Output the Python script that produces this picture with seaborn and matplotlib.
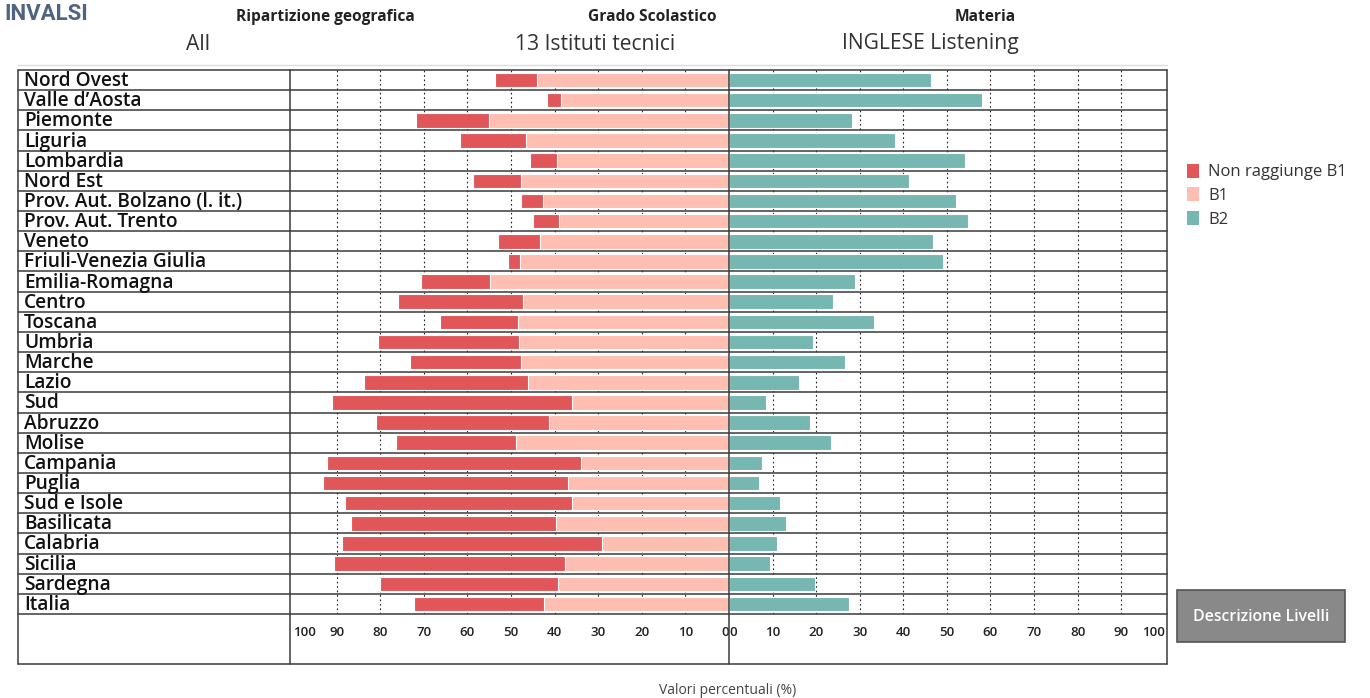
import numpy as np
import pandas as pd
import matplotlib
matplotlib.use("Agg")
import matplotlib.pyplot as plt
from matplotlib.lines import Line2D
from matplotlib.patches import Rectangle, Patch
import seaborn as sns

# ---- data -------------------------------------------------------------
regioni = [
    "Nord Ovest", "Valle d\u2019Aosta", "Piemonte", "Liguria", "Lombardia",
    "Nord Est", "Prov. Aut. Bolzano (l. it.)", "Prov. Aut. Trento", "Veneto",
    "Friuli-Venezia Giulia", "Emilia-Romagna", "Centro", "Toscana", "Umbria",
    "Marche", "Lazio", "Sud", "Abruzzo", "Molise", "Campania", "Puglia",
    "Sud e Isole", "Basilicata", "Calabria", "Sicilia", "Sardegna", "Italia",
]
non_b1 = [9.5, 3.2, 16.8, 15.3, 6.1, 10.9, 5.1, 5.9, 9.6, 2.7, 15.8, 28.7,
          17.9, 32.3, 25.5, 37.6, 55.2, 39.6, 27.4, 58.4, 56.1, 52.2, 47.1,
          59.6, 52.9, 40.8, 29.9]
b1 = [44.1, 38.6, 55.0, 46.5, 39.5, 47.8, 42.7, 39.1, 43.3, 48.0, 54.9, 47.2,
      48.5, 48.2, 47.6, 46.1, 35.9, 41.4, 48.9, 33.9, 37.0, 35.9, 39.7, 29.2,
      37.6, 39.2, 42.4]
b2 = [46.3, 58.0, 28.2, 38.0, 54.2, 41.2, 52.2, 54.9, 46.9, 49.0, 29.0, 23.8,
      33.3, 19.2, 26.7, 16.1, 8.5, 18.7, 23.4, 7.5, 6.8, 11.6, 13.1, 11.0,
      9.4, 19.7, 27.5]
tick_values = [0, 10, 20, 30, 40, 50, 60, 70, 80, 90, 100]

df = pd.DataFrame({"regione": regioni, "non_b1": non_b1, "b1": b1, "b2": b2})
df["sotto_b2"] = df["non_b1"] + df["b1"]

C_NON = "#E15759"
C_B1 = "#FEBEB2"
C_B2 = "#76B7B2"
LINE = "#3a3a3a"

sns.set_theme(style="white")
plt.rcParams["font.family"] = ["Open Sans", "DejaVu Sans"]

W, H = 1370, 698
fig = plt.figure(figsize=(W / 100, H / 100), dpi=100)


def fx(x):
    return x / W


def fy(y):
    return 1 - y / H


# table geometry (pixels)
T_LEFT, T_MID_L, T_CENTER, T_RIGHT = 18, 290, 729, 1167
T_TOP, T_ROWS_BOTTOM, T_BOTTOM = 70, 614, 664

ax_l = fig.add_axes([fx(T_MID_L), fy(T_ROWS_BOTTOM), fx(T_CENTER - T_MID_L),
                     (T_ROWS_BOTTOM - T_TOP) / H])
ax_r = fig.add_axes([fx(T_CENTER), fy(T_ROWS_BOTTOM), fx(T_RIGHT - T_CENTER),
                     (T_ROWS_BOTTOM - T_TOP) / H])

bar_w = 0.72
sns.barplot(data=df, x="sotto_b2", y="regione", orient="h", color=C_NON,
            width=bar_w, saturation=1, edgecolor="white", linewidth=0.8, ax=ax_l)
sns.barplot(data=df, x="b1", y="regione", orient="h", color=C_B1,
            width=bar_w, saturation=1, edgecolor="white", linewidth=0.8, ax=ax_l)
sns.barplot(data=df, x="b2", y="regione", orient="h", color=C_B2,
            width=bar_w, saturation=1, edgecolor="white", linewidth=0.8, ax=ax_r)

ax_l.set_xlim(100.7, 0)
ax_r.set_xlim(0, 100.5)
n = len(regioni)
for ax in (ax_l, ax_r):
    ax.set_ylim(n - 0.5, -0.5)
    ax.set_xlabel("")
    ax.set_ylabel("")
    ax.set_yticks([])
    for s in ax.spines.values():
        s.set_visible(False)
    ax.set_facecolor("none")
    for v in tick_values[1:-1]:
        ax.axvline(v, color="#222222", lw=0.8, ls=(0, (1.5, 2.5)), zorder=0)
    ax.set_xticks(tick_values)
    ax.set_xticklabels([str(v) for v in tick_values])
    ax.tick_params(axis="x", length=3, width=0.6, color="#555555", pad=6,
                   labelsize=9.5, labelcolor="#222222", direction="out")

# nudge edge tick labels inward
lab_l = ax_l.get_xticklabels()
lab_l[0].set_ha("right")
lab_l[-1].set_ha("left")
lab_r = ax_r.get_xticklabels()
lab_r[0].set_ha("left")
lab_r[-1].set_ha("right")
for lab in lab_l + lab_r:
    lab.set_fontweight("semibold")

# ---- table frame ------------------------------------------------------
row_h = (T_ROWS_BOTTOM - T_TOP) / n
for i in range(n + 1):
    y = T_TOP + i * row_h
    fig.add_artist(Line2D([fx(T_LEFT), fx(T_RIGHT)], [fy(y), fy(y)],
                          color=LINE, lw=1.1))
fig.add_artist(Line2D([fx(T_LEFT), fx(T_RIGHT)], [fy(T_BOTTOM), fy(T_BOTTOM)],
                      color=LINE, lw=1.1))
for x in (T_LEFT, T_MID_L, T_CENTER, T_RIGHT):
    fig.add_artist(Line2D([fx(x), fx(x)], [fy(T_TOP), fy(T_BOTTOM)],
                          color=LINE, lw=1.1))
fig.add_artist(Line2D([fx(T_LEFT), fx(T_RIGHT)], [fy(65), fy(65)],
                      color="#dddddd", lw=1))

for i, name in enumerate(regioni):
    yc = T_TOP + (i + 0.5) * row_h
    fig.text(fx(24), fy(yc + 1), name, ha="left", va="center",
             fontsize=13.8, fontweight="semibold", color="#111111")

# ---- header -----------------------------------------------------------
fig.text(fx(4), fy(14), "INVALSI", ha="left", va="center", fontsize=16,
         fontweight="bold", color="#4e6480",
         family=["Roboto", "DejaVu Sans"])
heads = [(325, "Ripartizione geografica", 198, "All"),
         (652, "Grado Scolastico", 595, "13 Istituti tecnici"),
         (985, "Materia", 930, "INGLESE Listening")]
for hx, htxt, vx, vtxt in heads:
    fig.text(fx(hx), fy(17), htxt, ha="center", va="center", fontsize=11.2,
             fontweight="bold", color="#222222")
    fig.text(fx(vx), fy(44), vtxt, ha="center", va="center", fontsize=15.2,
             color="#333333")

# ---- legend -----------------------------------------------------------
handles = [Patch(facecolor=C_NON, edgecolor="none", label="Non raggiunge B1"),
           Patch(facecolor=C_B1, edgecolor="none", label="B1"),
           Patch(facecolor=C_B2, edgecolor="none", label="B2")]
fig.legend(handles=handles, loc="upper left",
           bbox_to_anchor=(fx(1180), fy(157)), frameon=False,
           fontsize=12, handlelength=0.75, handleheight=0.9,
           handletextpad=0.55, labelspacing=0.42, borderaxespad=0,
           labelcolor="#333333")

# ---- button -----------------------------------------------------------
fig.add_artist(Rectangle((fx(1177), fy(642)), fx(1345 - 1177),
                         (642 - 590) / H, facecolor="#898989",
                         edgecolor="#555555", lw=1.2))
fig.text(fx(1261), fy(617), "Descrizione Livelli", ha="center", va="center",
         fontsize=11.4, fontweight="semibold", color="white")

fig.text(fx(728), fy(690), "Valori percentuali (%)", ha="center",
         va="center", fontsize=10, color="#444444")

fig.savefig("out.png", dpi=100, facecolor="white")
